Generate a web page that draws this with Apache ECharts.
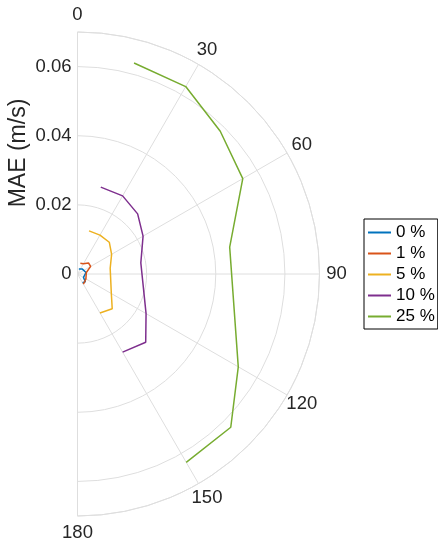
<!DOCTYPE html>
<html>
<head>
<meta charset="utf-8">
<script src="https://cdn.jsdelivr.net/npm/echarts@6/dist/echarts.min.js"></script>
<style>
  html, body { margin: 0; padding: 0; background: #fff; }
  #main { width: 438px; height: 548px; }
</style>
</head>
<body>
<div id="main"></div>
<script>
// Direction of each sample (degrees, 0 at top, clockwise)
const theta = [15, 30, 45, 60, 80, 120, 135, 150];

// Mean absolute error (m/s) per noise level
const mae0  = [0.0015, 0.0017, 0.0020, 0.0022, 0.0025, 0.0020, 0.0032, 0.0029];
const mae1  = [0.0032, 0.0034, 0.0045, 0.0044, 0.0026, 0.0028, 0.0030, 0.0034];
const mae5  = [0.0129, 0.0130, 0.0130, 0.0114, 0.0096, 0.0113, 0.0142, 0.0130];
const mae10 = [0.0260, 0.0261, 0.0246, 0.0219, 0.0186, 0.0229, 0.0279, 0.0261];
const mae25 = [0.0632, 0.0626, 0.0584, 0.0552, 0.0447, 0.0537, 0.0627, 0.0629];

const seriesNames = ['0 %', '1 %', '5 %', '10 %', '25 %'];
const seriesValues = [mae0, mae1, mae5, mae10, mae25];
const seriesColors = ['#0072BD', '#D95319', '#EDB120', '#7E2F8E', '#77AC30'];

// Axis ticks
const angleTicks = [0, 30, 60, 90, 120, 150, 180];
const radiusTicks = [0, 0.02, 0.04, 0.06];
const radiusMax = 0.07;
const radiusLabelText = ['0', '0.02', '0.04', '0.06'];
const axisTitle = 'MAE (m/s)';

const FONT = '"Liberation Sans", Arial, Helvetica, sans-serif';
const GRID = '#dedede';
const TEXT = '#262626';

const chart = echarts.init(document.getElementById('main'), null, { renderer: 'canvas' });

const option = {
  animation: false,
  textStyle: { fontFamily: FONT },
  polar: { center: [77.5, 274], radius: 242 },
  angleAxis: {
    type: 'value',
    min: angleTicks[0],
    max: angleTicks[angleTicks.length - 1],
    interval: 30,
    startAngle: 90,
    endAngle: -90,
    clockwise: true,
    axisLine: { show: true, lineStyle: { color: GRID, width: 1 } },
    axisTick: { show: false },
    axisLabel: { show: false },
    splitLine: { show: true, lineStyle: { color: GRID, width: 1 } }
  },
  radiusAxis: {
    type: 'value',
    min: 0,
    max: radiusMax,
    interval: 0.02,
    axisLine: { show: false },
    axisTick: { show: false },
    axisLabel: {
      margin: 6,
      fontSize: 18.5,
      color: TEXT,
      fontFamily: FONT,
      formatter: function (v) {
        const i = radiusTicks.findIndex(t => Math.abs(t - v) < 1e-9);
        return i >= 0 ? radiusLabelText[i] : '';
      }
    },
    splitLine: { show: true, lineStyle: { color: GRID, width: 1 } }
  },
  legend: {
    orient: 'vertical',
    left: 364,
    top: 219,
    data: seriesNames,
    icon: 'rect',
    itemWidth: 23,
    itemHeight: 2,
    itemGap: 4,
    padding: [5, 3, 4, 4],
    borderColor: '#000',
    borderWidth: 1,
    borderRadius: 0,
    backgroundColor: '#fff',
    textStyle: { fontSize: 17, lineHeight: 17, color: '#000', fontFamily: FONT }
  },
  series: seriesNames.map((name, k) => ({
    name: name,
    type: 'line',
    coordinateSystem: 'polar',
    symbol: 'none',
    color: seriesColors[k],
    lineStyle: { width: 1.5, color: seriesColors[k] },
    data: theta.map((a, i) => [seriesValues[k][i], a])
  }))
};

chart.setOption(option);

// Angle labels centred just outside the rim, and the rotated radial title
const labelRadius = radiusMax * 259 / 242;
const graphics = angleTicks.map(a => {
  const p = chart.convertToPixel({ seriesIndex: 0 }, [labelRadius, a]);
  return {
    type: 'text',
    x: p[0],
    y: p[1],
    silent: true,
    style: {
      text: String(a),
      align: 'center',
      verticalAlign: 'middle',
      fontSize: 18.5,
      fontFamily: FONT,
      fill: TEXT
    }
  };
});
const mid = chart.convertToPixel({ seriesIndex: 0 }, [radiusMax / 2, 0]);
graphics.push({
  type: 'text',
  x: mid[0] - 59,
  y: mid[1],
  rotation: Math.PI / 2,
  silent: true,
  style: {
    text: axisTitle,
    align: 'center',
    verticalAlign: 'middle',
    fontSize: 23,
    fontFamily: FONT,
    fill: TEXT
  }
});
chart.setOption({ graphic: { elements: graphics } });
</script>
</body>
</html>
